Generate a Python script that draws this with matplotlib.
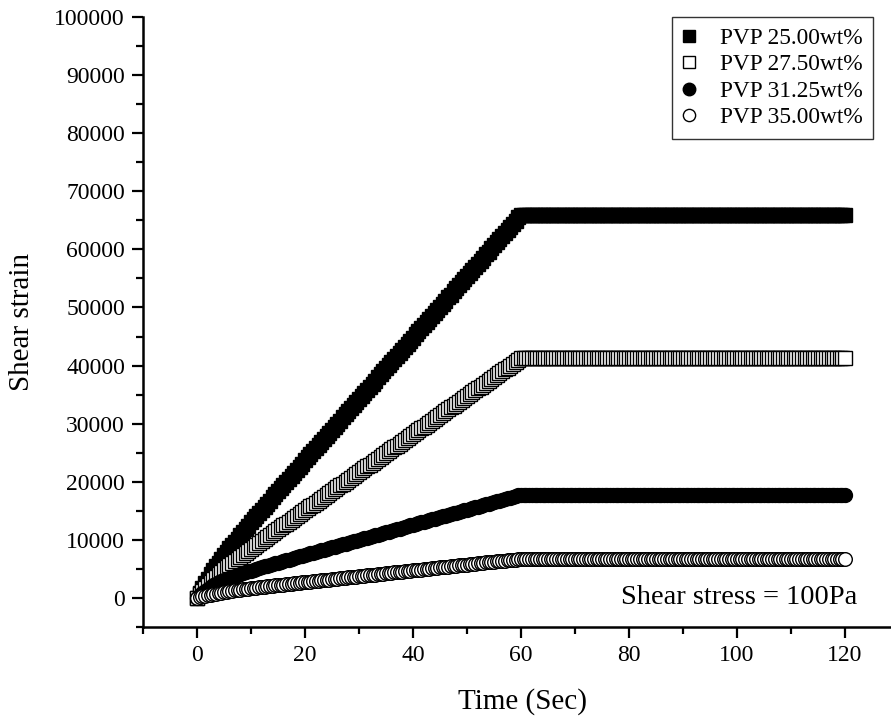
import matplotlib
matplotlib.use("Agg")
import matplotlib.pyplot as plt
from matplotlib.ticker import MultipleLocator

# ----------------------
# Data (0.5 s steps)
# ----------------------
# creep phase, 0..60 s, one row = 5 s
pvp_2500_creep = [
    0, 910, 1770, 2570, 3330, 4060, 4750, 5430, 6070, 6700,
    7320, 7920, 8510, 9090, 9660, 10230, 10790, 11350, 11900, 12450,
    12990, 13530, 14070, 14610, 15150, 15690, 16220, 16760, 17290, 17820,
    18350, 18890, 19420, 19950, 20480, 21010, 21540, 22070, 22600, 23130,
    23660, 24190, 24720, 25250, 25780, 26310, 26830, 27360, 27890, 28420,
    28950, 29480, 30010, 30540, 31070, 31600, 32120, 32660, 33180, 33720,
    34240, 34780, 35300, 35840, 36360, 36900, 37410, 37950, 38470, 39010,
    39530, 40070, 40590, 41130, 41650, 42190, 42700, 43250, 43760, 44310,
    44820, 45370, 45880, 46430, 46940, 47490, 47990, 48540, 49050, 49600,
    50110, 50660, 51170, 51720, 52230, 52780, 53280, 53840, 54340, 54900,
    55400, 55960, 56460, 57020, 57520, 58080, 58570, 59130, 59630, 60190,
    60690, 61250, 61750, 62310, 62810, 63370, 63860, 64430, 64920, 65490,
    65980,
]
pvp_2750_creep = [
    0, 640, 1220, 1770, 2280, 2770, 3230, 3670, 4090, 4500,
    4900, 5280, 5660, 6030, 6390, 6750, 7100, 7450, 7800, 8140,
    8480, 8820, 9150, 9490, 9820, 10160, 10490, 10820, 11150, 11480,
    11810, 12140, 12470, 12800, 13130, 13460, 13790, 14110, 14440, 14770,
    15100, 15430, 15760, 16080, 16410, 16740, 17070, 17390, 17720, 18050,
    18380, 18700, 19030, 19360, 19690, 20010, 20340, 20670, 21000, 21320,
    21650, 21980, 22310, 22630, 22960, 23290, 23620, 23940, 24270, 24600,
    24930, 25250, 25580, 25910, 26240, 26560, 26890, 27220, 27550, 27870,
    28200, 28530, 28860, 29180, 29510, 29840, 30170, 30490, 30820, 31150,
    31480, 31800, 32130, 32460, 32790, 33110, 33440, 33770, 34100, 34420,
    34750, 35080, 35410, 35730, 36060, 36390, 36720, 37040, 37370, 37700,
    38030, 38350, 38680, 39010, 39340, 39660, 39990, 40320, 40650, 40970,
    41300,
]
pvp_3125_creep = [
    0, 470, 880, 1260, 1590, 1890, 2170, 2430, 2660, 2880,
    3080, 3280, 3460, 3640, 3810, 3970, 4130, 4280, 4430, 4580,
    4720, 4860, 5000, 5140, 5280, 5420, 5550, 5690, 5820, 5950,
    6090, 6220, 6350, 6480, 6610, 6740, 6880, 7010, 7140, 7270,
    7400, 7530, 7660, 7790, 7920, 8050, 8180, 8310, 8440, 8570,
    8700, 8830, 8960, 9090, 9220, 9350, 9480, 9610, 9740, 9870,
    10000, 10130, 10260, 10390, 10520, 10650, 10780, 10910, 11040, 11170,
    11300, 11430, 11560, 11690, 11820, 11950, 12080, 12210, 12340, 12470,
    12600, 12730, 12860, 12990, 13120, 13250, 13380, 13510, 13640, 13770,
    13900, 14030, 14160, 14290, 14420, 14550, 14680, 14810, 14940, 15070,
    15200, 15330, 15460, 15590, 15720, 15850, 15980, 16110, 16240, 16370,
    16500, 16630, 16760, 16890, 17020, 17150, 17280, 17410, 17540, 17670,
    17800,
]
pvp_3500_creep = [
    0, 130, 260, 370, 480, 580, 670, 760, 850, 930,
    1000, 1080, 1150, 1220, 1290, 1350, 1410, 1480, 1540, 1600,
    1650, 1710, 1770, 1820, 1880, 1930, 1990, 2040, 2090, 2150,
    2200, 2250, 2300, 2360, 2410, 2460, 2510, 2560, 2610, 2670,
    2720, 2770, 2820, 2870, 2920, 2970, 3020, 3070, 3120, 3170,
    3220, 3270, 3320, 3370, 3420, 3470, 3520, 3580, 3630, 3680,
    3730, 3780, 3830, 3880, 3930, 3980, 4030, 4080, 4130, 4180,
    4230, 4280, 4330, 4380, 4430, 4480, 4530, 4590, 4640, 4690,
    4740, 4790, 4840, 4890, 4940, 4990, 5040, 5090, 5140, 5190,
    5240, 5290, 5340, 5390, 5440, 5490, 5540, 5600, 5650, 5700,
    5750, 5800, 5850, 5900, 5950, 6000, 6050, 6100, 6150, 6200,
    6240, 6290, 6330, 6380, 6420, 6470, 6510, 6560, 6600, 6650,
    6690,
]

# recovery phase, 60.5..120 s (flat plateau)
pvp_2500_recovery = [66000] * 120
pvp_2750_recovery = [41300] * 120
pvp_3125_recovery = [17800] * 120
pvp_3500_recovery = [6720] * 120

creep_time = [i * 0.5 for i in range(len(pvp_2500_creep))]
recovery_time = [60.5 + i * 0.5 for i in range(len(pvp_2500_recovery))]

labels = ["PVP 25.00wt%", "PVP 27.50wt%", "PVP 31.25wt%", "PVP 35.00wt%"]

# ----------------------
# Style
# ----------------------
plt.rcParams['font.family'] = ['Liberation Serif', 'DejaVu Serif']

fig = plt.figure(figsize=(8.91, 7.21), dpi=100)
ax = fig.add_axes([0.1605, 0.1304, 0.8395, 0.846])

time = creep_time + recovery_time
series = [
    (pvp_2500_creep + pvp_2500_recovery, 's', 'black', 10.0),
    (pvp_2750_creep + pvp_2750_recovery, 's', 'white', 9.6),
    (pvp_3125_creep + pvp_3125_recovery, 'o', 'black', 10.0),
    (pvp_3500_creep + pvp_3500_recovery, 'o', 'white', 9.8),
]

for (values, marker, face, size), label in zip(series, labels):
    ax.plot(time, values, linestyle='none', marker=marker, markersize=size,
            markerfacecolor=face, markeredgecolor='black', markeredgewidth=1.0,
            label=label, clip_on=False)

ax.set_xlim(-10, 128.5)
ax.set_ylim(-5000, 100000)

ax.xaxis.set_major_locator(MultipleLocator(20))
ax.xaxis.set_minor_locator(MultipleLocator(10))
ax.yaxis.set_major_locator(MultipleLocator(10000))
ax.yaxis.set_minor_locator(MultipleLocator(5000))

for side in ['top', 'right']:
    ax.spines[side].set_visible(False)
for side in ['left', 'bottom']:
    ax.spines[side].set_linewidth(1.8)

ax.tick_params(which='major', direction='out', length=8, width=1.6, labelsize=17, pad=5)
ax.tick_params(which='minor', direction='out', length=5, width=1.6)

ax.set_xlabel("Time (Sec)", fontsize=21)
ax.xaxis.set_label_coords(0.507, -0.1)
ax.xaxis.label.set_verticalalignment('top')
ax.set_ylabel("Shear strain", fontsize=21, labelpad=14)

ax.text(122.2, -1000, "Shear stress = 100Pa", fontsize=20.5, ha='right', va='baseline')

leg = ax.legend(loc='upper right', bbox_to_anchor=(0.976, 1.0), borderaxespad=0,
                prop={'size': 16.8}, frameon=True, fancybox=False, edgecolor='black',
                handlelength=0.6, handletextpad=1.0, labelspacing=0.22,
                markerscale=0.9, borderpad=0.45)
leg.get_frame().set_linewidth(1.0)

fig.savefig("out.png", dpi=100)
